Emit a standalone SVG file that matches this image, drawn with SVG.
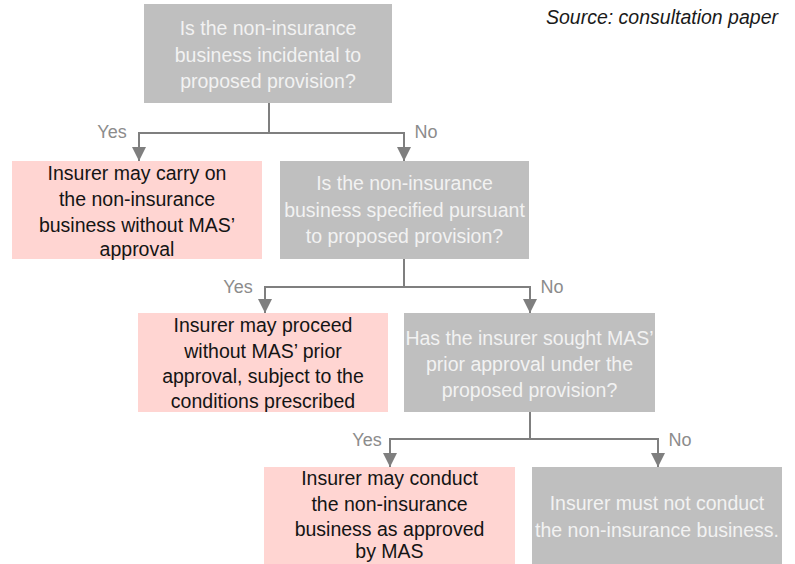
<svg xmlns="http://www.w3.org/2000/svg" width="795" height="564" viewBox="0 0 795 564">
<defs>
<style>
.q rect{fill:#BFBFBF}
.q text{fill:#F2F2F2}
.a rect{fill:#FFD5D2}
.a text{fill:#141414}
text{font-family:"Liberation Sans",Arial,sans-serif;font-size:19.5px;text-anchor:middle}
.lbl{fill:#8C8C8C;font-size:18px}
.src{fill:#1a1a1a;font-style:italic;text-anchor:start}
#connectors path{fill:none;stroke:#7F7F7F;stroke-width:2}
</style>
<marker id="arr" markerWidth="14" markerHeight="14" refX="14" refY="7" orient="auto" markerUnits="userSpaceOnUse" viewBox="0 0 14 14">
<path d="M0,0 L14,7 L0,14 Z" fill="#7F7F7F"/>
</marker>
</defs>
<rect width="795" height="564" fill="#FFFFFF"/>
<text class="src" x="546" y="24">Source: consultation paper</text>

<g id="connectors">
<path d="M269,103 V133"/>
<path d="M269,133 H139 V161" marker-end="url(#arr)"/>
<path d="M269,133 H404 V161" marker-end="url(#arr)"/>
<path d="M404,259 V287"/>
<path d="M404,287 H265 V313" marker-end="url(#arr)"/>
<path d="M404,287 H530 V313" marker-end="url(#arr)"/>
<path d="M530,412 V439"/>
<path d="M530,439 H390 V467" marker-end="url(#arr)"/>
<path d="M530,439 H658 V467" marker-end="url(#arr)"/>
<text class="lbl" x="112" y="138">Yes</text>
<text class="lbl" x="426" y="138">No</text>
<text class="lbl" x="238" y="293">Yes</text>
<text class="lbl" x="552" y="293">No</text>
<text class="lbl" x="367" y="446">Yes</text>
<text class="lbl" x="680" y="446">No</text>
</g>

<g id="q1" class="q">
<rect x="144" y="4" width="248" height="99"/>
<text x="268" y="35">Is the non-insurance</text>
<text x="268" y="62">business incidental to</text>
<text x="268" y="88">proposed provision?</text>
</g>

<g id="a1" class="a">
<rect x="12" y="161" width="250" height="98"/>
<text x="137" y="180">Insurer may carry on</text>
<text x="137" y="206">the non-insurance</text>
<text x="137" y="232">business without MAS’</text>
<text x="137" y="256">approval</text>
</g>

<g id="q2" class="q">
<rect x="280" y="161" width="249" height="98"/>
<text x="404.5" y="190">Is the non-insurance</text>
<text x="404.5" y="217">business specified pursuant</text>
<text x="404.5" y="243">to proposed provision?</text>
</g>

<g id="a2" class="a">
<rect x="138" y="313" width="250" height="99"/>
<text x="263" y="332">Insurer may proceed</text>
<text x="263" y="358">without MAS’ prior</text>
<text x="263" y="383">approval, subject to the</text>
<text x="263" y="408">conditions prescribed</text>
</g>

<g id="q3" class="q">
<rect x="404" y="313" width="251" height="99"/>
<text x="529.5" y="345">Has the insurer sought MAS’</text>
<text x="529.5" y="371">prior approval under the</text>
<text x="529.5" y="397">proposed provision?</text>
</g>

<g id="a3" class="a">
<rect x="264" y="467" width="251" height="97"/>
<text x="389.5" y="485">Insurer may conduct</text>
<text x="389.5" y="511">the non-insurance</text>
<text x="389.5" y="536">business as approved</text>
<text x="389.5" y="558">by MAS</text>
</g>

<g id="n3" class="q">
<rect x="532" y="467" width="250" height="97"/>
<text x="657" y="510">Insurer must not conduct</text>
<text x="657" y="537">the non-insurance business.</text>
</g>
</svg>
